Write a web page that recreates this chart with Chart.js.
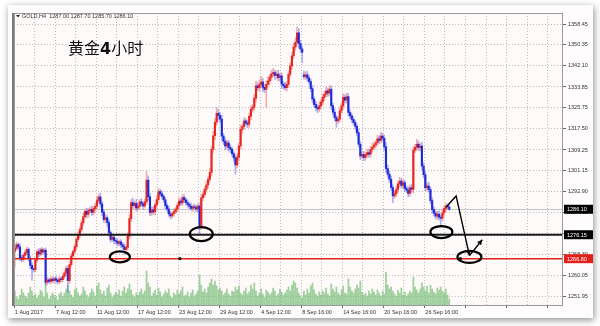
<!DOCTYPE html>
<html><head><meta charset="utf-8">
<script src="https://cdn.jsdelivr.net/npm/chart.js@4/dist/chart.umd.min.js"></script>
<style>html,body{margin:0;padding:0;background:#fff;}canvas{display:block}</style>
</head><body>
<canvas id="c" width="600" height="326"></canvas>
<script>
const symbolTitle = 'GOLD,H4  1287.00 1287.70 1285.70 1286.10';
const chartTitle = ['黄金', '4', '小时'];
const timeLabels = ['1 Aug 2017','7 Aug 12:00','11 Aug 12:00','17 Aug 12:00','23 Aug 12:00','29 Aug 12:00','4 Sep 12:00','8 Sep 16:00','14 Sep 16:00','20 Sep 16:00','26 Sep 16:00'];
const barsPerLabel = 24;
const totalSlots = 321;
const priceTicks = [1358.45,1350.35,1342.10,1333.85,1325.75,1317.50,1309.25,1301.15,1292.90,1284.65,1276.55,1268.30,1260.05,1251.95];
const closes = [
1270.8,1272.3,1271.4,1267.2,1266.4,1268.1,1269.2,1270.4,1267.0,1264.2,
1262.8,1262.5,1266.3,1269.5,1268.6,1270.3,1269.4,1270.1,1257.6,1258.5,
1257.9,1258.8,1258.2,1259.0,1258.4,1257.8,1258.9,1258.6,1259.9,1261.2,
1263.0,1258.2,1264.5,1267.9,1269.6,1271.5,1274.3,1276.0,1278.2,1280.8,
1283.2,1285.3,1284.1,1285.6,1286.0,1284.9,1286.4,1287.3,1289.5,1290.9,
1288.2,1285.0,1282.1,1282.8,1280.9,1277.0,1274.3,1275.2,1273.9,1273.6,
1272.8,1273.4,1272.3,1271.5,1270.4,1271.2,1275.6,1282.5,1288.7,1287.5,
1288.4,1286.6,1287.3,1289.0,1288.2,1287.4,1289.0,1297.5,1291.0,1284.8,
1285.9,1285.1,1287.8,1289.9,1293.0,1292.1,1291.2,1289.8,1287.5,1286.2,
1284.3,1283.5,1284.4,1285.2,1286.1,1287.6,1289.3,1288.6,1290.7,1289.8,
1288.7,1288.0,1287.3,1286.4,1287.1,1286.8,1286.2,1287.3,1279.5,1290.6,
1291.8,1293.9,1295.6,1297.8,1300.5,1309.5,1314.8,1320.1,1323.6,1322.7,
1321.3,1314.7,1312.6,1310.8,1312.0,1310.2,1309.5,1307.8,1306.2,1303.4,
1306.5,1310.8,1317.3,1318.4,1320.6,1319.8,1319.3,1322.4,1325.2,1326.0,
1329.5,1334.3,1333.6,1334.9,1335.8,1333.7,1332.9,1334.9,1336.2,1337.6,
1339.0,1339.5,1338.3,1338.9,1337.5,1338.2,1335.0,1334.3,1333.6,1334.9,
1338.8,1342.1,1346.0,1349.5,1351.3,1355.0,1350.8,1348.7,1347.4,1337.9,
1338.6,1337.4,1336.0,1333.2,1329.1,1327.0,1325.8,1325.3,1326.5,1328.0,
1329.8,1331.0,1332.3,1331.5,1333.0,1326.5,1324.0,1321.9,1320.6,1321.3,
1324.5,1326.5,1329.8,1328.7,1330.1,1323.9,1322.6,1321.2,1320.0,1318.5,
1316.0,1311.5,1306.9,1307.5,1306.3,1307.4,1308.2,1307.6,1309.5,1310.4,
1311.2,1312.1,1313.6,1313.0,1314.7,1313.8,1310.5,1302.0,1299.8,1297.8,
1294.6,1291.3,1292.2,1293.8,1296.0,1297.1,1295.4,1296.5,1294.2,1293.6,
1292.3,1294.5,1293.9,1309.2,1310.3,1311.5,1310.2,1310.8,1303.0,1299.6,
1294.5,1295.2,1293.8,1289.5,1286.0,1284.6,1283.4,1284.2,1283.0,1282.6,
1284.7,1286.4,1287.3,1287.0,1286.1];
const gapOpens = {0: 1269.6, 169: 1338.6};
const upperWicks = [
0.8,1.0,0.6,1.2,0.9,0.7,1.1,0.8,0.6,0.9, 1.0,0.7,0.8,0.9,1.2,0.6,0.8,0.7,0.9,1.0,
0.6,0.8,1.0,0.7,0.9,0.6,0.8,0.7,1.0,0.9, 1.1,0.8,1.2,0.9,0.7,1.0,0.8,1.3,0.9,1.1,
1.4,0.9,1.2,0.8,1.0,1.3,0.7,1.1,1.4,1.0, 1.5,1.0,0.9,1.2,0.8,1.1,0.7,1.0,0.9,0.8,
1.0,0.7,0.9,0.8,1.1,0.9,1.4,1.6,1.2,1.8, 0.9,1.5,1.1,0.8,1.3,0.9,1.0,3.4,1.6,1.2,
1.0,1.3,0.8,1.5,1.1,0.9,1.2,0.7,1.0,0.8, 1.1,0.9,0.7,1.2,0.8,1.0,1.3,0.9,1.1,1.0,
0.8,1.0,0.9,1.2,0.7,1.0,0.8,0.9,1.0,1.5, 1.2,1.0,1.4,1.1,1.6,1.3,1.8,1.5,2.3,1.4,
1.2,1.6,1.0,1.3,1.1,0.9,1.2,1.0,0.8,1.1, 1.4,1.2,1.6,1.0,1.3,0.9,1.1,1.2,1.4,1.0,
1.5,1.8,1.2,1.6,2.2,1.4,1.1,1.3,1.7,1.2, 1.4,1.6,1.0,1.3,1.5,1.1,1.2,1.0,1.4,1.1,
1.3,1.2,1.5,1.4,1.8,2.3,1.6,1.2,1.0,1.6, 1.2,1.4,1.1,1.0,1.3,0.9,1.2,1.0,1.5,1.1,
1.3,1.2,1.6,1.1,1.4,1.2,1.0,1.3,0.9,1.1, 1.2,1.5,1.3,1.1,1.4,1.2,1.0,0.9,1.1,0.8,
1.0,1.3,1.1,0.9,1.2,1.0,1.4,1.1,1.2,1.5, 1.1,1.0,1.3,1.2,1.4,1.0,1.2,1.6,1.3,1.1,
1.4,1.0,1.2,1.3,1.1,1.5,1.0,1.2,0.9,1.1, 1.2,1.0,1.3,1.4,1.2,1.9,1.3,1.0,1.5,1.2,
1.3,1.1,1.4,1.0,1.2,1.0,0.9,1.1,1.3,1.0, 1.2,1.0,1.1,0.8,0.7];
const lowerWicks = [
6.0,0.8,1.0,1.2,0.9,0.7,1.0,0.8,1.1,1.3, 4.5,1.0,0.8,0.9,1.1,0.7,1.0,0.8,1.2,0.9,
0.8,0.9,0.7,1.0,0.8,0.9,0.7,1.0,0.8,0.9, 1.0,4.7,1.1,0.8,1.0,0.9,1.2,0.8,1.0,0.9,
1.1,0.9,1.3,1.0,0.8,1.2,1.0,0.9,1.1,1.0, 1.2,1.4,1.0,1.1,1.5,1.2,1.0,0.9,1.3,1.0,
1.1,0.9,1.2,1.0,2.0,1.1,1.0,1.2,1.3,1.1, 1.0,1.2,0.9,1.1,1.0,1.3,0.9,1.0,1.4,1.2,
1.1,0.9,1.2,1.0,1.3,0.9,1.1,1.0,1.2,0.9, 1.0,1.2,0.8,1.1,0.9,1.0,1.2,0.9,1.1,1.0,
0.9,1.1,1.0,0.8,1.2,0.9,1.0,1.1,3.2,1.3, 1.1,1.0,1.2,1.3,1.0,1.4,1.2,1.5,1.3,1.8,
1.4,1.6,1.2,1.5,1.1,1.3,1.2,1.0,1.4,3.7, 1.2,1.1,1.3,1.5,1.2,1.0,1.4,1.1,1.3,1.2,
1.3,1.5,1.1,1.4,1.2,1.6,1.3,7.0,1.2,1.4, 1.2,1.1,1.5,1.3,1.2,1.4,1.6,1.2,1.0,1.3,
1.2,1.0,1.4,1.1,1.3,1.5,1.8,1.3,4.0,1.0, 1.1,1.3,1.0,1.2,1.4,1.1,1.3,1.5,1.0,1.2,
1.1,1.2,1.0,1.3,1.1,1.4,1.2,1.3,2.5,1.1, 1.2,1.0,1.3,1.1,1.2,1.4,1.1,1.3,1.0,1.2,
1.3,1.1,1.4,1.0,1.2,1.1,1.0,1.3,1.1,1.2, 1.0,1.2,1.1,1.3,1.0,1.2,1.4,1.5,1.2,1.3,
1.1,2.6,1.0,1.2,1.1,1.3,1.0,1.2,1.1,1.0, 1.3,1.1,1.2,1.4,1.0,1.2,1.1,1.3,1.5,1.2,
1.1,1.3,1.0,1.2,1.4,1.1,1.0,1.3,1.2,3.1, 1.1,1.0,1.2,0.9,0.4];
const volumes = [
14,8,6,10,16,12,9,7,12,18, 14,9,11,7,10,15,13,8,24,12,
6,9,12,10,8,5,11,13,9,12, 16,20,14,10,8,15,17,12,9,11,
18,14,10,8,12,16,13,9,19,22, 15,11,14,9,17,20,12,8,10,13,
11,15,9,14,18,12,16,21,15,10, 8,12,10,13,16,11,14,34,22,18,
9,12,15,10,17,13,8,11,14,12, 16,9,7,12,10,15,11,14,18,9,
10,13,8,12,15,9,11,14,30,20, 13,16,12,18,22,26,20,24,19,15,
17,14,10,12,16,11,9,14,13,18, 15,19,12,10,14,17,11,13,20,16,
22,14,9,12,16,11,8,15,13,10, 12,17,14,9,11,16,13,10,12,15,
18,14,20,24,22,17,12,9,7,14, 10,16,12,19,22,15,11,9,13,10,
14,12,17,11,9,21,16,13,18,12, 10,15,19,12,11,26,18,14,12,16,
20,17,24,13,10,12,9,14,11,16, 13,10,15,12,9,14,11,33,20,16,
18,14,11,9,15,12,17,10,13,9, 11,14,12,28,18,15,12,16,22,18,
14,19,12,20,16,13,11,17,15,18, 14,12,16,10,6];
const supportLevel = 1276.15;
const targetLevel = 1266.80;
const bidPrice = 1286.10;
// annotations in data units: [bar index, price]
const ellipses = [[61.4,1267.5],[109.0,1276.4],[249.4,1277.2],[265.8,1267.5]];
const forecastPath = [[252.2,1287.0],[258.0,1291.3],[265.8,1268.0]];
const reboundArrow = [[265.8,1268.0],[273.3,1274.2]];
const lineDots = [[-0.3,supportLevel],[96.5,targetLevel],[260.5,targetLevel]];

// ---- build tables ----
const opens = closes.map((c,i)=> (gapOpens[i]!==undefined ? gapOpens[i] : closes[i-1]));
const barLabels = Array.from({length: totalSlots}, (_,i)=> (i % barsPerLabel === 0 && timeLabels[i/barsPerLabel]) ? timeLabels[i/barsPerLabel] : '');
const bodyData = closes.map((c,i)=> [opens[i], c]);
const wickData = closes.map((c,i)=> [Math.min(opens[i],c)-lowerWicks[i], Math.max(opens[i],c)+upperWicks[i]]);
const UP='#e8261f', DOWN='#1f2ad8', DOJI='#888888';
const bodyColors = closes.map((c,i)=> Math.abs(c-opens[i])<0.15 ? DOJI : (c>opens[i]?UP:DOWN));
const wickColors = closes.map((c,i)=> Math.abs(c-opens[i])<0.15 ? 'rgba(120,120,120,0.7)' : (c>opens[i]?'rgba(235,100,100,0.55)':'rgba(100,110,235,0.55)'));

const font = '"Liberation Sans", Arial, sans-serif';

const overlay = {
  id:'overlay',
  beforeDraw(chart){
    const ctx = chart.ctx, a = chart.chartArea;
    ctx.save();
    ctx.fillStyle='#ffffff'; ctx.fillRect(0,0,600,326);
    ctx.shadowColor='rgba(0,0,0,0.45)'; ctx.shadowBlur=7; ctx.shadowOffsetX=1; ctx.shadowOffsetY=2;
    ctx.fillStyle='#fefcfc'; ctx.fillRect(8,5,585,313);
    ctx.shadowColor='transparent';
    ctx.fillStyle='#fffafa'; ctx.fillRect(a.left,a.top,a.right-a.left,a.bottom-a.top);
    ctx.restore();
  },
  beforeDatasetsDraw(chart){
    const ctx=chart.ctx,a=chart.chartArea,y=chart.scales.y;
    ctx.save();
    ctx.strokeStyle='#c4c4c4'; ctx.lineWidth=1;
    const by=Math.round(y.getPixelForValue(bidPrice))+0.5;
    ctx.beginPath(); ctx.moveTo(a.left,by); ctx.lineTo(a.right,by); ctx.stroke();
    ctx.restore();
  },
  afterDatasetsDraw(chart){
    const ctx=chart.ctx,a=chart.chartArea,x=chart.scales.x,y=chart.scales.y;
    const px=p=>[x.getPixelForValue(p[0]), y.getPixelForValue(p[1])];
    ctx.save();
    ctx.lineWidth=2; ctx.strokeStyle='#1c1c1c';
    let sy=y.getPixelForValue(supportLevel);
    ctx.beginPath(); ctx.moveTo(a.left,sy); ctx.lineTo(a.right,sy); ctx.stroke();
    ctx.lineWidth=1.5; ctx.strokeStyle='#e3201b';
    let ry=y.getPixelForValue(targetLevel);
    ctx.beginPath(); ctx.moveTo(a.left,ry); ctx.lineTo(a.right,ry); ctx.stroke();
    ctx.fillStyle='#111';
    lineDots.forEach(d=>{const [X,Y]=px(d); ctx.beginPath(); ctx.arc(X,Y,1.6,0,Math.PI*2); ctx.fill();});
    const sizes=[[10,5.5],[11.5,7],[11,6],[12,6]];
    ctx.lineWidth=2.2; ctx.strokeStyle='#000';
    ellipses.forEach((e,k)=>{const [X,Y]=px(e); ctx.beginPath(); ctx.ellipse(X,Y,sizes[k][0],sizes[k][1],0,0,Math.PI*2); ctx.stroke();});
    const arrow=(pts)=>{
      const P=pts.map(px);
      ctx.lineWidth=1.4; ctx.strokeStyle='#000'; ctx.fillStyle='#000';
      ctx.beginPath(); ctx.moveTo(P[0][0],P[0][1]); P.slice(1).forEach(p=>ctx.lineTo(p[0],p[1])); ctx.stroke();
      const [x1,y1]=P[P.length-2],[x2,y2]=P[P.length-1];
      const ang=Math.atan2(y2-y1,x2-x1), L=5, W=2.6;
      ctx.beginPath(); ctx.moveTo(x2,y2);
      ctx.lineTo(x2-L*Math.cos(ang)+W*Math.sin(ang), y2-L*Math.sin(ang)-W*Math.cos(ang));
      ctx.lineTo(x2-L*Math.cos(ang)-W*Math.sin(ang), y2-L*Math.sin(ang)+W*Math.cos(ang));
      ctx.closePath(); ctx.fill();
    };
    arrow(forecastPath); arrow(reboundArrow);
    ctx.restore();
  },
  afterDraw(chart){
    const ctx=chart.ctx,a=chart.chartArea,y=chart.scales.y;
    ctx.save();
    ctx.strokeStyle='#9a9a9a'; ctx.lineWidth=1;
    ctx.strokeRect(a.left+0.5,a.top+0.5,a.right-a.left-1,a.bottom-a.top);
    ctx.fillStyle='#7a7a7a'; ctx.fillRect(a.left-2,a.top,2,a.bottom-a.top+1);
    const box=(price,bg,txt)=>{
      const yy=y.getPixelForValue(price);
      ctx.fillStyle=bg; ctx.fillRect(a.right+1,yy-4.5,29,9);
      ctx.fillStyle='#fff'; ctx.font='5.5px '+font; ctx.textBaseline='middle'; ctx.textAlign='left';
      ctx.fillText(txt,a.right+4,yy+0.5);
    };
    box(bidPrice,'#000',bidPrice.toFixed(2));
    box(supportLevel,'#000',supportLevel.toFixed(2));
    box(targetLevel,'#e3201b',targetLevel.toFixed(2));
    ctx.fillStyle='#222'; ctx.beginPath(); ctx.moveTo(16,15); ctx.lineTo(20,15); ctx.lineTo(18,17.5); ctx.closePath(); ctx.fill();
    ctx.font='5.5px '+font; ctx.textBaseline='middle'; ctx.textAlign='left'; ctx.fillStyle='#333';
    ctx.fillText(symbolTitle,22,16);
    ctx.fillStyle='#111'; ctx.textBaseline='alphabetic';
    let tx=68;
    ctx.font='16px "Noto Sans CJK SC"'; ctx.fillText(chartTitle[0],tx,54); tx+=ctx.measureText(chartTitle[0]).width;
    ctx.font='bold 16px "DejaVu Sans"'; ctx.fillText(chartTitle[1],tx,54); tx+=ctx.measureText(chartTitle[1]).width;
    ctx.font='16px "Noto Sans CJK SC"'; ctx.fillText(chartTitle[2],tx,54);
    ctx.restore();
  }
};

new Chart(document.getElementById('c'), {
  type:'bar',
  data:{
    labels: barLabels,
    datasets:[
      {label:'body', data: bodyData, backgroundColor: bodyColors, barThickness:1.5, grouped:false, order:1, minBarLength:0.8, yAxisID:'y'},
      {label:'wick', data: wickData, backgroundColor: wickColors, barThickness:0.9, grouped:false, order:2, yAxisID:'y'},
      {label:'volume', data: volumes, backgroundColor:'rgba(118,190,118,0.7)', barThickness:1.1, grouped:false, order:3, yAxisID:'yv'}
    ]
  },
  options:{
    responsive:false, animation:false, devicePixelRatio:1,
    layout:{padding:{left:14,top:13,right:0,bottom:0}},
    plugins:{legend:{display:false},tooltip:{enabled:false}},
    scales:{
      x:{
        type:'category', offset:true,
        grid:{offset:true, color:c=> (c.index%12===0 && c.index>0) ? '#bcbcbc' : 'rgba(0,0,0,0)', lineWidth:1,
              tickColor:c=> c.index%barsPerLabel===0 ? '#666' : 'rgba(0,0,0,0)', tickLength:3, drawTicks:true},
        border:{display:false, dash:[1,2]},
        ticks:{autoSkip:false, maxRotation:0, minRotation:0, align:'start', padding:1, color:'#333',
               font:{size:5.5, family:font}, callback:(v,i)=>barLabels[i]},
        afterFit:s=>{s.height=21;}
      },
      y:{
        type:'linear', position:'right', min:1248.71, max:1362.75,
        afterBuildTicks:s=>{s.ticks=priceTicks.map(v=>({value:v}));},
        grid:{color:'#bcbcbc', tickColor:'#666', tickLength:3},
        border:{display:false, dash:[1,2]},
        ticks:{color:'#333', padding:2, font:{size:5.5, family:font}, callback:v=>v.toFixed(2)},
        afterFit:s=>{s.width=37;}
      },
      yv:{type:'linear', display:false, min:0, max:292}
    }
  },
  plugins:[overlay]
});
</script>
</body></html>
